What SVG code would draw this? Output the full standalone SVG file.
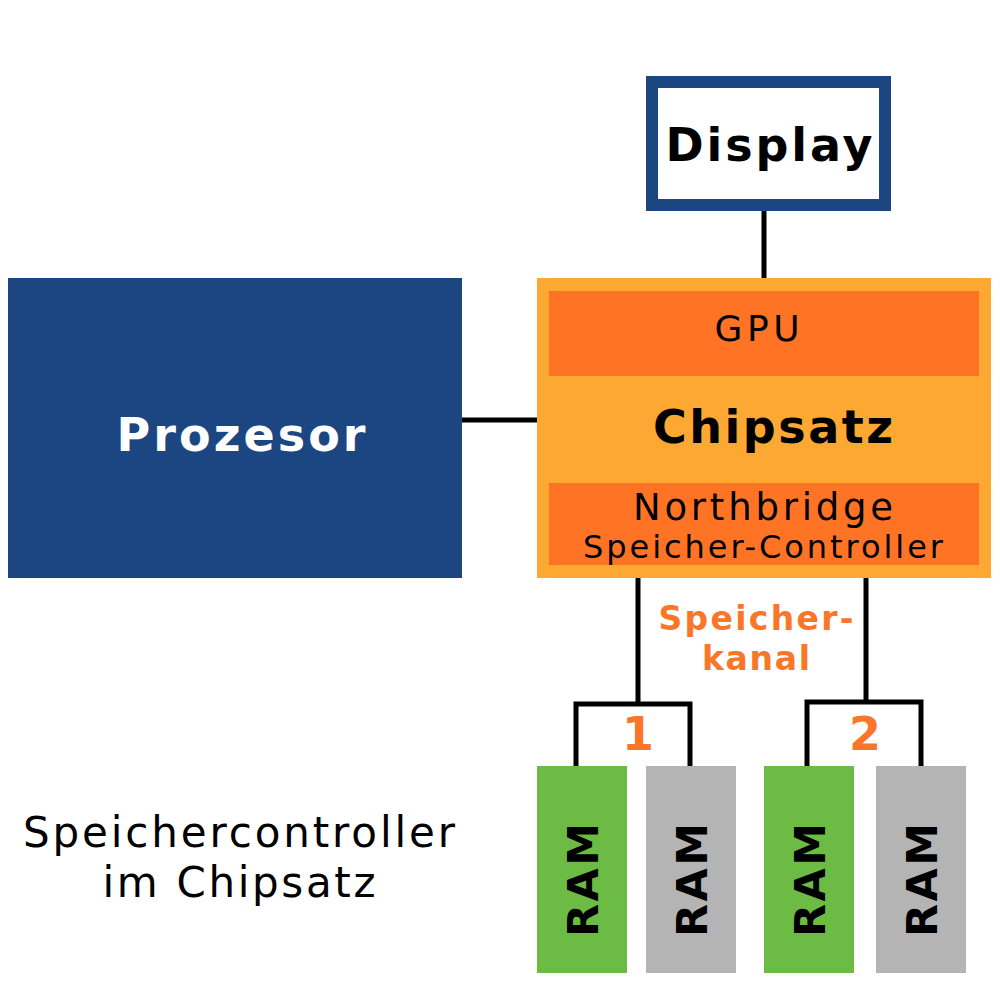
<svg xmlns="http://www.w3.org/2000/svg" width="1000" height="1000" viewBox="0 0 1000 1000">
<style>
.t{font-family:"DejaVu Sans","Verdana",sans-serif;}
.b{font-weight:bold;}
.wire{stroke:#000;stroke-width:5;fill:none;}
.ram{font-family:"DejaVu Sans",sans-serif;font-weight:bold;font-size:43px;fill:#000;}
.green{fill:#6CBB45;}
.gray{fill:#B4B4B4;}
.orangeTxt{fill:#FA7628;}
</style>
<rect width="1000" height="1000" fill="#fff"/>
<g id="connectors">
<line class="wire" x1="764" y1="210" x2="764" y2="280"/>
<line class="wire" x1="460" y1="420" x2="539" y2="420"/>
<polyline class="wire" points="638,576 638,704"/>
<polyline class="wire" points="576,768 576,704 690,704 690,768"/>
<polyline class="wire" points="866,576 866,702"/>
<polyline class="wire" points="807,768 807,702 921,702 921,768"/>
</g>
<g id="display">
<rect x="652" y="82" width="233" height="123" fill="#fff" stroke="#1B4682" stroke-width="12"/>
<text class="t b" x="769" y="161" font-size="46" text-anchor="middle" textLength="207" lengthAdjust="spacing">Display</text>
</g>
<g id="prozesor">
<rect x="8" y="278" width="454" height="300" fill="#1B4682"/>
<text class="t b" x="241" y="451" font-size="46" fill="#fff" text-anchor="middle" textLength="249" lengthAdjust="spacing">Prozesor</text>
</g>
<g id="chipsatz">
<rect x="537" y="278" width="454" height="300" fill="#FCA833"/>
<rect x="549" y="291" width="430" height="85" fill="#FF7424"/>
<text class="t" x="757" y="341" font-size="36" text-anchor="middle" textLength="85" lengthAdjust="spacing">GPU</text>
<text class="t b" x="773" y="443" font-size="46" text-anchor="middle" textLength="240" lengthAdjust="spacing">Chipsatz</text>
<rect x="549" y="483" width="430" height="82" fill="#FF7424"/>
<text class="t" x="763" y="520" font-size="37" text-anchor="middle" textLength="260" lengthAdjust="spacing">Northbridge</text>
<text class="t" x="763" y="558" font-size="32" text-anchor="middle" textLength="360" lengthAdjust="spacing">Speicher-Controller</text>
</g>
<g id="speicherkanal-label">
<text class="t b orangeTxt" x="756" y="630" font-size="33" text-anchor="middle" textLength="195" lengthAdjust="spacing">Speicher-</text>
<text class="t b orangeTxt" x="756" y="670" font-size="33" text-anchor="middle" textLength="108" lengthAdjust="spacing">kanal</text>
<text class="t b orangeTxt" x="638" y="750" font-size="46" text-anchor="middle">1</text>
<text class="t b orangeTxt" x="865" y="750" font-size="46" text-anchor="middle">2</text>
</g>
<g id="ram1">
<rect class="green" x="537" y="766" width="90" height="207"/>
<text class="ram" transform="translate(598,880) rotate(-90)" text-anchor="middle" textLength="114" lengthAdjust="spacing">RAM</text>
</g>
<g id="ram2">
<rect class="gray" x="646" y="766" width="90" height="207"/>
<text class="ram" transform="translate(707,880) rotate(-90)" text-anchor="middle" textLength="114" lengthAdjust="spacing">RAM</text>
</g>
<g id="ram3">
<rect class="green" x="764" y="766" width="90" height="207"/>
<text class="ram" transform="translate(825,880) rotate(-90)" text-anchor="middle" textLength="114" lengthAdjust="spacing">RAM</text>
</g>
<g id="ram4">
<rect class="gray" x="876" y="766" width="90" height="207"/>
<text class="ram" transform="translate(937,880) rotate(-90)" text-anchor="middle" textLength="114" lengthAdjust="spacing">RAM</text>
</g>
<g id="caption">
<text class="t" x="239" y="847" font-size="42" text-anchor="middle" textLength="432" lengthAdjust="spacing">Speichercontroller</text>
<text class="t" x="239" y="897" font-size="42" text-anchor="middle" textLength="273" lengthAdjust="spacing">im Chipsatz</text>
</g>
</svg>
